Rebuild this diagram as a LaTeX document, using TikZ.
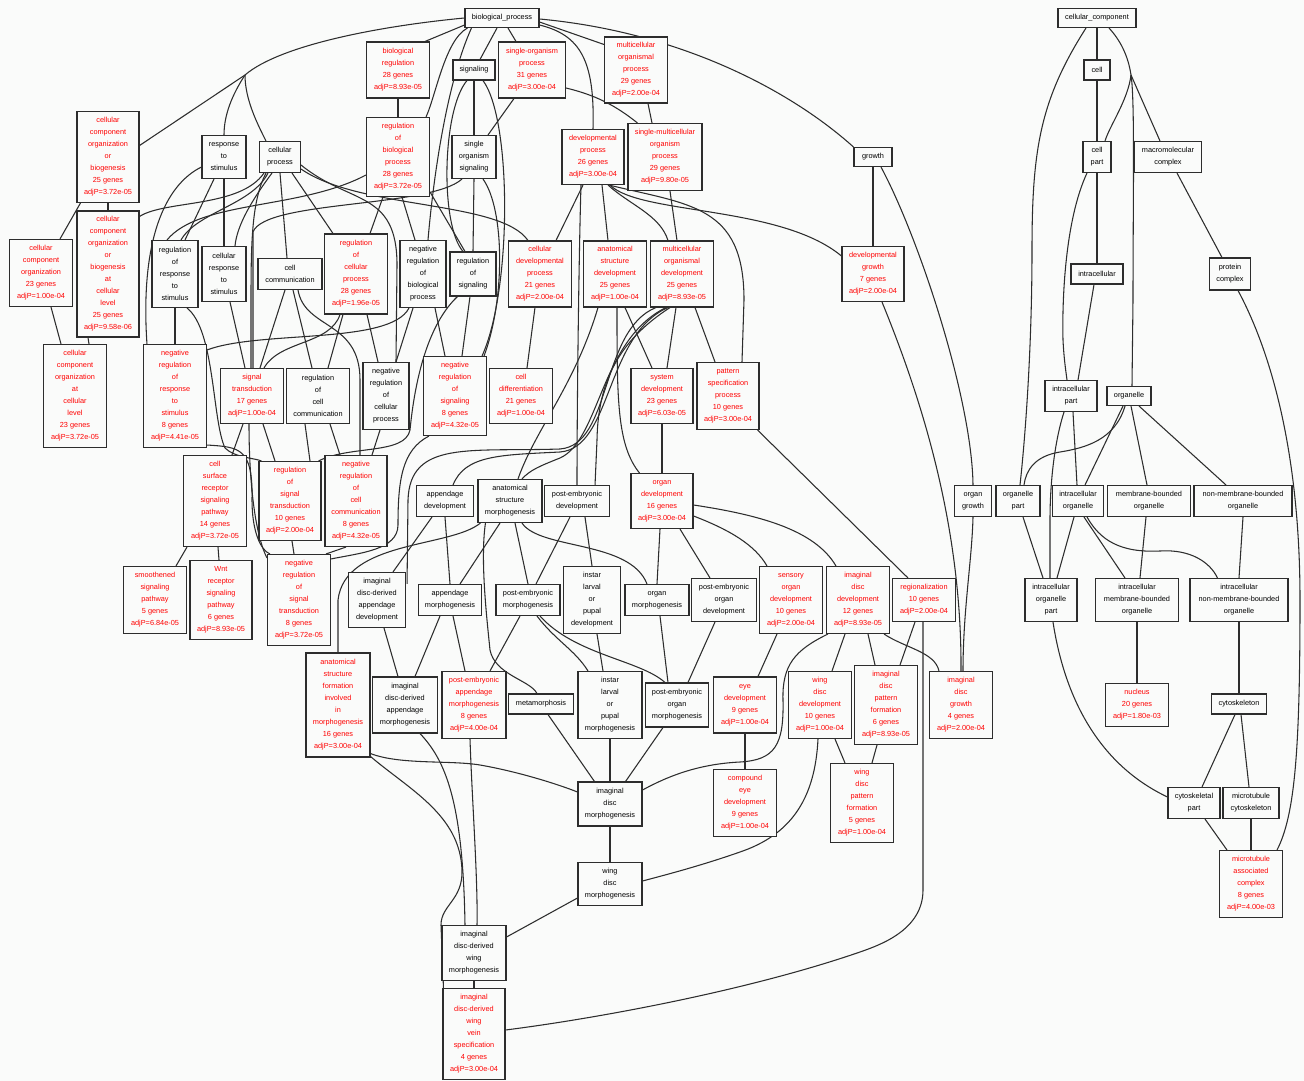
\documentclass[tikz,border=0pt]{standalone}
\usepackage{fontspec}
\setmainfont{Liberation Sans}
\usetikzlibrary{calc,backgrounds}

\definecolor{bgc}{RGB}{250,251,250}
\definecolor{gored}{RGB}{255,0,0}
\definecolor{edgec}{RGB}{45,45,45}
\newcommand{\gofont}{\fontsize{5.5}{9}\selectfont}

\begin{document}
\begin{tikzpicture}[
  x=0.75pt, y=-0.75pt,
  term/.style 2 args={draw=edgec, fill=bgc, line width=0.8pt, inner sep=0pt,
              align=center, font=\gofont,
              minimum width=#1*0.75pt, minimum height=#2*0.75pt},
  hit/.style 2 args={term={#1}{#2}, text=gored}
]
  \useasboundingbox (0,0) rectangle (1304,1081);

  \node[term={74}{19}]  (bp)     at (502,18)   {biological\_process};
  \node[term={78}{19}]  (ccroot) at (1097,18)  {cellular\_component};

  \node[hit={63}{56}]   (br)     at (398,70)   {biological\\regulation\\28 genes\\adjP=8.93e-05};
  \node[term={42}{20}]  (sig)    at (474,70)   {signaling};
  \node[hit={67}{56}]   (sop)    at (532,70)   {single-organism\\process\\31 genes\\adjP=3.00e-04};
  \node[hit={63}{66}]   (mop)    at (636,70)   {multicellular\\organismal\\process\\29 genes\\adjP=2.00e-04};
  \node[term={26}{20}]  (cell)   at (1097,70)  {cell};

  \node[hit={62}{91}]   (ccob)   at (108,157)  {cellular\\component\\organization\\or\\biogenesis\\25 genes\\adjP=3.72e-05};
  \node[term={44}{43}]  (rts)    at (224,157)  {response\\to\\stimulus};
  \node[term={41}{31}]  (cp)     at (280,157)  {cellular\\process};
  \node[hit={63}{79}]   (rbp)    at (398,157)  {regulation\\of\\biological\\process\\28 genes\\adjP=3.72e-05};
  \node[term={44}{43}]  (sos)    at (474,157)  {single\\organism\\signaling};
  \node[hit={62}{55}]   (dp)     at (593,157)  {developmental\\process\\26 genes\\adjP=3.00e-04};
  \node[hit={74}{67}]   (smop)   at (665,157)  {single-multicellular\\organism\\process\\29 genes\\adjP=9.80e-05};
  \node[term={38}{19}]  (growth) at (873,157)  {growth};
  \node[term={28}{31}]  (cellpart) at (1097,157) {cell\\part};
  \node[term={67}{31}]  (mc)     at (1168,157) {macromolecular\\complex};

  \node[hit={63}{67}]   (cco)    at (41,273)   {cellular\\component\\organization\\23 genes\\adjP=1.00e-04};
  \node[hit={62}{126}]  (ccoacl) at (108,274)  {cellular\\component\\organization\\or\\biogenesis\\at\\cellular\\level\\25 genes\\adjP=9.58e-06};
  \node[term={46}{67}]  (rrts)   at (175,274)  {regulation\\of\\response\\to\\stimulus};
  \node[term={44}{55}]  (crts)   at (224,274)  {cellular\\response\\to\\stimulus};
  \node[term={64}{31}]  (cc)     at (290,274)  {cell\\communication};
  \node[hit={63}{80}]   (rcp)    at (356,274)  {regulation\\of\\cellular\\process\\28 genes\\adjP=1.96e-05};
  \node[term={46}{67}]  (nrbp)   at (423,274)  {negative\\regulation\\of\\biological\\process};
  \node[term={46}{44}]  (ros)    at (473,274)  {regulation\\of\\signaling};
  \node[hit={63}{66}]   (cdp)    at (540,274)  {cellular\\developmental\\process\\21 genes\\adjP=2.00e-04};
  \node[hit={63}{66}]   (asd)    at (615,274)  {anatomical\\structure\\development\\25 genes\\adjP=1.00e-04};
  \node[hit={63}{66}]   (mod)    at (682,274)  {multicellular\\organismal\\development\\25 genes\\adjP=8.93e-05};
  \node[hit={62}{55}]   (dg)     at (873,274)  {developmental\\growth\\7 genes\\adjP=2.00e-04};
  \node[term={52}{20}]  (intra)  at (1097,274) {intracellular};
  \node[term={41}{32}]  (pc)     at (1230,274) {protein\\complex};

  \node[hit={63}{103}]  (ccoal)  at (75,396)   {cellular\\component\\organization\\at\\cellular\\level\\23 genes\\adjP=3.72e-05};
  \node[hit={63}{103}]  (nrrts)  at (175,396)  {negative\\regulation\\of\\response\\to\\stimulus\\8 genes\\adjP=4.41e-05};
  \node[hit={63}{55}]   (st)     at (252,396)  {signal\\transduction\\17 genes\\adjP=1.00e-04};
  \node[term={63}{55}]  (rcc)    at (318,396)  {regulation\\of\\cell\\communication};
  \node[term={46}{67}]  (nrcp)   at (386,396)  {negative\\regulation\\of\\cellular\\process};
  \node[hit={63}{79}]   (nros)   at (455,396)  {negative\\regulation\\of\\signaling\\8 genes\\adjP=4.32e-05};
  \node[hit={63}{55}]   (cdiff)  at (521,396)  {cell\\differentiation\\21 genes\\adjP=1.00e-04};
  \node[hit={62}{55}]   (sd)     at (662,396)  {system\\development\\23 genes\\adjP=6.03e-05};
  \node[hit={62}{67}]   (psp)    at (728,396)  {pattern\\specification\\process\\10 genes\\adjP=3.00e-04};
  \node[term={52}{31}]  (ip)     at (1071,396) {intracellular\\part};
  \node[term={44}{19}]  (org)    at (1129,396) {organelle};

  \node[hit={63}{91}]   (csrsp)  at (215,501)  {cell\\surface\\receptor\\signaling\\pathway\\14 genes\\adjP=3.72e-05};
  \node[hit={62}{79}]   (rst)    at (290,501)  {regulation\\of\\signal\\transduction\\10 genes\\adjP=2.00e-04};
  \node[hit={62}{91}]   (nrcc)   at (356,501)  {negative\\regulation\\of\\cell\\communication\\8 genes\\adjP=4.32e-05};
  \node[term={57}{31}]  (apd)    at (445,501)  {appendage\\development};
  \node[term={64}{43}]  (asm)    at (510,501)  {anatomical\\structure\\morphogenesis};
  \node[term={65}{31}]  (ped)    at (577,501)  {post-embryonic\\development};
  \node[hit={62}{55}]   (od)     at (662,501)  {organ\\development\\16 genes\\adjP=3.00e-04};
  \node[term={37}{31}]  (og)     at (973,501)  {organ\\growth};
  \node[term={44}{31}]  (op)     at (1018,501) {organelle\\part};
  \node[term={51}{31}]  (io)     at (1078,501) {intracellular\\organelle};
  \node[term={83}{31}]  (mbo)    at (1149,501) {membrane-bounded\\organelle};
  \node[term={98}{31}]  (nmbo)   at (1243,501) {non-membrane-bounded\\organelle};

  \node[hit={63}{67}]   (ssp)    at (155,600)  {smoothened\\signaling\\pathway\\5 genes\\adjP=6.84e-05};
  \node[hit={62}{79}]   (wnt)    at (221,600)  {Wnt\\receptor\\signaling\\pathway\\6 genes\\adjP=8.93e-05};
  \node[hit={63}{91}]   (nrst)   at (299,600)  {negative\\regulation\\of\\signal\\transduction\\8 genes\\adjP=3.72e-05};
  \node[term={57}{55}]  (idad)   at (377,600)  {imaginal\\disc-derived\\appendage\\development};
  \node[term={63}{31}]  (apm)    at (450,600)  {appendage\\morphogenesis};
  \node[term={64}{31}]  (pem)    at (528,600)  {post-embryonic\\morphogenesis};
  \node[term={57}{67}]  (ilpd)   at (592,600)  {instar\\larval\\or\\pupal\\development};
  \node[term={64}{31}]  (om)     at (657,600)  {organ\\morphogenesis};
  \node[term={65}{43}]  (peod)   at (724,600)  {post-embryonic\\organ\\development};
  \node[hit={63}{67}]   (sod)    at (791,600)  {sensory\\organ\\development\\10 genes\\adjP=2.00e-04};
  \node[hit={63}{67}]   (idd)    at (858,600)  {imaginal\\disc\\development\\12 genes\\adjP=8.93e-05};
  \node[hit={63}{43}]   (reg)    at (924,600)  {regionalization\\10 genes\\adjP=2.00e-04};
  \node[term={52}{43}]  (iop)    at (1051,600) {intracellular\\organelle\\part};
  \node[term={83}{43}]  (imbo)   at (1137,600) {intracellular\\membrane-bounded\\organelle};
  \node[term={98}{43}]  (inmbo)  at (1239,600) {intracellular\\non-membrane-bounded\\organelle};

  \node[hit={64}{104}]  (asfim)  at (338,705)  {anatomical\\structure\\formation\\involved\\in\\morphogenesis\\16 genes\\adjP=3.00e-04};
  \node[term={65}{56}]  (idadm)  at (405,705)  {imaginal\\disc-derived\\appendage\\morphogenesis};
  \node[hit={64}{67}]   (pam)    at (474,705)  {post-embryonic\\appendage\\morphogenesis\\8 genes\\adjP=4.00e-04};
  \node[term={65}{20}]  (meta)   at (541,704)  {metamorphosis};
  \node[term={64}{67}]  (ilpm)   at (610,705)  {instar\\larval\\or\\pupal\\morphogenesis};
  \node[term={63}{44}]  (pom)    at (677,705)  {post-embryonic\\organ\\morphogenesis};
  \node[hit={63}{56}]   (ed)     at (745,705)  {eye\\development\\9 genes\\adjP=1.00e-04};
  \node[hit={63}{67}]   (wdd)    at (820,705)  {wing\\disc\\development\\10 genes\\adjP=1.00e-04};
  \node[hit={63}{79}]   (idpf)   at (886,705)  {imaginal\\disc\\pattern\\formation\\6 genes\\adjP=8.93e-05};
  \node[hit={63}{67}]   (idg)    at (961,705)  {imaginal\\disc\\growth\\4 genes\\adjP=2.00e-04};
  \node[hit={63}{43}]   (nuc)    at (1137,705) {nucleus\\20 genes\\adjP=1.80e-03};
  \node[term={55}{20}]  (csk)    at (1239,704) {cytoskeleton};

  \node[term={64}{44}]  (idm)    at (610,804)  {imaginal\\disc\\morphogenesis};
  \node[hit={63}{67}]   (ced)    at (745,803)  {compound\\eye\\development\\9 genes\\adjP=1.00e-04};
  \node[hit={63}{79}]   (wdpf)   at (862,803)  {wing\\disc\\pattern\\formation\\5 genes\\adjP=1.00e-04};
  \node[term={52}{31}]  (cskp)   at (1194,803) {cytoskeletal\\part};
  \node[term={56}{31}]  (mtc)    at (1251,803) {microtubule\\cytoskeleton};

  \node[term={64}{43}]  (wdm)    at (610,884)  {wing\\disc\\morphogenesis};
  \node[hit={63}{67}]   (mac)    at (1251,884) {microtubule\\associated\\complex\\8 genes\\adjP=4.00e-03};
  \node[term={64}{55}]  (idwm)   at (474,953)  {imaginal\\disc-derived\\wing\\morphogenesis};
  \node[hit={62}{91}]   (idwvs)  at (474,1034) {imaginal\\disc-derived\\wing\\vein\\specification\\4 genes\\adjP=3.00e-04};

  \coordinate (hubL) at (245,75);
  \coordinate (ccHub) at (1131,75);

  \begin{scope}[on background layer]
  \fill[bgc] (0,0) rectangle (1304,1081);
  \begin{scope}[edgec, line width=0.8pt]
  \draw (bp.west) .. controls (380,26) and (280,45) .. (hubL);
  \draw (hubL) -- (ccob.20);
  \draw (hubL) .. controls (232,95) and (224,115) .. (rts.north);
  \draw (hubL) .. controls (245,100) and (258,125) .. ($(cp.north)+(-14,0)$);
  \draw ($(bp.south west)+(0,-3)$) -- ($(br.north)+(27,0)$);
  \draw ($(bp.south west)+(3,0)$) .. controls (445,40) and (436,95) .. ($(rbp.north east)+(-4,0)$);
  \draw ($(bp.south west)+(7,0)$) .. controls (448,80) and (434,170) .. ($(nrbp.north)+(5,0)$);
  \draw ($(bp.south)+(-5,0)$) -- ($(sig.north)+(6,0)$);
  \draw ($(bp.south)+(6,0)$) -- ($(sop.north)+(-16,0)$);
  \draw ($(bp.east)+(0,7)$) .. controls (580,35) and (595,60) .. (dp.north);
  \draw ($(bp.east)+(0,4)$) -- ($(mop.north west)+(0,8)$);
  \draw ($(bp.east)+(0,1)$) .. controls (680,32) and (790,90) .. (growth.north west);
  \draw (br.south) -- (rbp.north);
  \draw (sig.south) -- (sos.north);
  \draw ($(sig.south)+(-7,0)$) .. controls (442,110) and (440,225) .. ($(ros.north)+(-10,0)$);
  \draw ($(sig.south)+(9,0)$) .. controls (512,120) and (512,290) .. ($(nros.north east)+(-5,0)$);
  \draw ($(sop.south)+(-18,0)$) -- ($(sos.north)+(14,0)$);
  \draw ($(sop.east)+(0,18)$) .. controls (595,95) and (615,105) .. ($(smop.north west)+(10,0)$);
  \draw ($(mop.south)+(12,0)$) -- ($(smop.north)+(-13,0)$);
  \draw (ccob.south) -- (ccoacl.north);
  \draw ($(ccob.south west)+(4,0)$) -- ($(cco.north)+(19,0)$);
  \draw ($(ccoacl.south)+(-20,0)$) -- ($(ccoal.north)+(14,0)$);
  \draw ($(cco.south)+(10,0)$) -- ($(ccoal.north)+(-14,0)$);
  \draw (rts.south) -- (crts.north);
  \draw ($(rts.south)+(-10,0)$) -- ($(rrts.north)+(10,0)$);
  \draw ($(rts.west)+(0,10)$) .. controls (165,185) and (140,240) .. ($(nrrts.north west)+(4,0)$);
  \draw ($(cp.south)+(-8,0)$) .. controls (252,200) and (237,225) .. ($(crts.north)+(11,0)$);
  \draw (cp.south) -- ($(cc.north)+(-3,0)$);
  \draw ($(cp.south)+(12,0)$) -- ($(rcp.north)+(-23,0)$);
  \draw ($(cp.south)+(-12,0)$) .. controls (252,205) and (197,212) .. ($(rrts.north)+(6,0)$);
  \draw ($(cp.south)+(-14,0)$) .. controls (252,200) and (251,240) .. (251,300) -- ($(st.north)+(-1,0)$);
  \draw ($(cp.south)+(-16,0)$) .. controls (240,208) and (165,200) .. ($(ccoacl.north east)+(0,6)$);
  \draw ($(cp.east)+(0,8)$) .. controls (350,205) and (397,190) .. (397,265) -- ($(nrcp.north)+(10,0)$);
  \draw ($(cp.east)+(0,12)$) .. controls (360,210) and (500,200) .. ($(cdp.north)+(-12,0)$);
  \draw ($(rbp.south)+(-15,0)$) -- ($(rcp.north)+(14,0)$);
  \draw ($(rbp.south)+(4,0)$) -- ($(nrbp.north)+(-8,0)$);
  \draw ($(rbp.south east)+(0,-5)$) -- ($(ros.north)+(-8,0)$);
  \draw ($(rbp.west)+(0,18)$) .. controls (300,210) and (200,200) .. ($(rrts.north)+(-8,0)$);
  \draw (sos.south) -- (ros.north);
  \draw ($(sos.south)+(-12,0)$) .. controls (430,208) and (265,200) .. (253,232) -- ($(st.north)+(1,0)$);
  \draw ($(sos.south)+(9,0)$) .. controls (505,210) and (505,300) .. ($(nros.north east)+(-3,0)$);
  \draw ($(ros.south)+(-3,0)$) -- ($(nros.north)+(7,0)$);
  \draw ($(ros.south west)+(8,0)$) .. controls (422,330) and (413,400) .. (410,430) .. controls (405,455) and (350,445) .. ($(rst.north east)+(-3,0)$);
  \draw ($(nrbp.south)+(-10,0)$) -- ($(nrcp.north)+(10,0)$);
  \draw ($(nrbp.south)+(12,0)$) -- ($(nros.north)+(-10,0)$);
  \draw ($(nrbp.south)+(-14,0)$) .. controls (390,345) and (260,330) .. ($(nrrts.north east)+(0,6)$);
  \draw ($(rcp.south)+(-13,0)$) -- ($(rcc.north)+(10,0)$);
  \draw ($(rcp.south)+(11,0)$) -- ($(nrcp.north)+(-8,0)$);
  \draw ($(rcp.south)+(-16,0)$) .. controls (330,345) and (280,340) .. ($(st.north)+(12,0)$);
  \draw ($(cc.south)+(3,0)$) -- ($(rcc.north)+(-6,0)$);
  \draw ($(cc.south)+(-5,0)$) -- ($(st.north)+(8,0)$);
  \draw ($(cc.south)+(8,0)$) .. controls (305,330) and (360,320) .. (360,380) -- ($(nrcc.north)+(4,0)$);
  \draw (rrts.south) -- (nrrts.north);
  \draw ($(rrts.south)+(12,0)$) .. controls (215,330) and (212,420) .. (225,448) .. controls (235,458) and (255,458) .. ($(rst.north west)+(3,0)$);
  \draw ($(crts.south)+(6,0)$) -- ($(st.north)+(-7,0)$);
  \draw ($(nrrts.south east)+(0,-3)$) .. controls (240,447) and (253,448) .. (252,500) .. controls (252,530) and (260,550) .. ($(nrst.north west)+(3,0)$);
  \draw ($(st.south)+(-9,0)$) -- ($(csrsp.north)+(17,0)$);
  \draw ($(st.south)+(11,0)$) -- ($(rst.north)+(-15,0)$);
  \draw ($(st.south)+(-3,0)$) .. controls (249,470) and (253,530) .. ($(nrst.north west)+(0,4)$);
  \draw ($(rcc.south)+(-13,0)$) -- ($(rst.north)+(20,0)$);
  \draw ($(rcc.south)+(12,0)$) -- ($(nrcc.north)+(-16,0)$);
  \draw ($(nrcp.south)+(-6,0)$) -- ($(nrcc.north)+(16,0)$);
  \draw ($(nros.south west)+(6,0)$) .. controls (402,450) and (398,480) .. (398,525) .. controls (398,550) and (360,553) .. ($(nrst.north east)+(0,5)$);
  \draw ($(rst.south)+(2,0)$) -- ($(nrst.north)+(-5,0)$);
  \draw ($(nrcc.south)+(-10,0)$) -- ($(nrst.north east)+(-5,0)$);
  \draw ($(csrsp.south)+(-28,0)$) -- ($(ssp.north)+(21,0)$);
  \draw ($(csrsp.south)+(3,0)$) -- ($(wnt.north)+(-2,0)$);
  \draw ($(dp.south)+(-10,0)$) -- ($(cdp.north)+(16,0)$);
  \draw ($(dp.south)+(9,0)$) -- ($(asd.north)+(-7,0)$);
  \draw ($(dp.south)+(15,0)$) .. controls (630,205) and (660,215) .. ($(mod.north)+(-14,0)$);
  \draw ($(dp.south)+(17,0)$) .. controls (640,215) and (780,205) .. ($(dg.west)+(0,-18)$);
  \draw ($(dp.south)+(16,0)$) .. controls (690,205) and (744,205) .. (744,300) -- ($(psp.north)+(14,0)$);
  \draw ($(dp.south)+(-12,0)$) .. controls (579,250) and (577,400) .. (ped.north);
  \draw ($(smop.south)+(5,0)$) -- ($(mod.north)+(-5,0)$);
  \draw (growth.south) -- (dg.north);
  \draw ($(growth.south)+(8,0)$) .. controls (920,240) and (972,400) .. (og.north);
  \draw ($(dg.south)+(9,0)$) .. controls (918,390) and (962,520) .. (idg.north);
  \draw (og.south) .. controls (972,560) and (963,610) .. ($(idg.north)+(2,0)$);
  \draw ($(cdp.south)+(-5,0)$) -- ($(cdiff.north)+(6,0)$);
  \draw ($(asd.south)+(10,0)$) -- ($(sd.north)+(-10,0)$);
  \draw ($(asd.south)+(2,0)$) .. controls (617,400) and (617,445) .. ($(od.north west)+(9,0)$);
  \draw ($(asd.south)+(-17,0)$) .. controls (575,385) and (535,430) .. ($(asm.north)+(8,0)$);
  \draw ($(mod.south)+(-6,0)$) -- ($(sd.north)+(5,0)$);
  \draw ($(mod.south)+(13,0)$) -- ($(psp.north)+(-13,0)$);
  \draw ($(mod.south)+(-12,0)$) .. controls (620,340) and (598,380) .. (597,440) -- ($(ped.north east)+(-15,0)$);
  \draw ($(mod.south)+(-14,0)$) .. controls (605,335) and (612,448) .. (560,452) .. controls (500,455) and (465,455) .. ($(apd.north)+(8,0)$);
  \draw ($(mod.south)+(-16,0)$) .. controls (600,340) and (600,440) .. (560,458) .. controls (540,466) and (530,470) .. ($(asm.north)+(12,0)$);
  \draw ($(mod.south west)+(6,0)$) .. controls (600,330) and (612,445) .. (560,449) .. controls (470,452) and (410,440) .. (408,500) -- ($(idad.north east)+(1,12)$);
  \draw ($(psp.south east)+(-2,0)$) -- ($(reg.north)+(-16,0)$);
  \draw (sd.south) -- (od.north);
  \draw ($(od.south)+(-2,0)$) -- (om.north);
  \draw ($(od.south)+(18,0)$) -- ($(peod.north)+(-14,0)$);
  \draw ($(od.east)+(0,15)$) .. controls (730,530) and (755,545) .. ($(sod.north)+(-24,0)$);
  \draw ($(od.east)+(0,4)$) .. controls (760,515) and (815,530) .. ($(idd.north west)+(10,0)$);
  \draw ($(asm.south)+(-10,0)$) -- ($(apm.north)+(10,0)$);
  \draw ($(asm.south)+(5,0)$) -- (pem.north);
  \draw ($(asm.south)+(12,0)$) .. controls (540,550) and (630,540) .. ($(om.north)+(-10,0)$);
  \draw ($(asm.south west)+(8,0)$) .. controls (480,560) and (487,620) .. (490,650) .. controls (495,675) and (530,680) .. ($(meta.north)+(-4,0)$);
  \draw ($(asm.south west)+(3,0)$) .. controls (450,548) and (345,540) .. (338,600) -- (asfim.north);
  \draw ($(ped.south)+(-7,0)$) -- ($(pem.north)+(8,0)$);
  \draw ($(ped.south)+(8,0)$) -- (ilpd.north);
  \draw (apd.south) -- (apm.north);
  \draw ($(apd.south)+(-13,0)$) -- ($(idad.north)+(16,0)$);
  \draw ($(ilpd.south)+(5,0)$) -- ($(ilpm.north)+(-7,0)$);
  \draw ($(pem.south)+(-8,0)$) -- ($(pam.north)+(16,0)$);
  \draw ($(pem.south)+(9,0)$) .. controls (555,640) and (575,650) .. ($(ilpm.north)+(-22,0)$);
  \draw ($(pem.south)+(12,0)$) .. controls (575,655) and (640,660) .. ($(pom.north)+(-12,0)$);
  \draw ($(om.south)+(3,0)$) -- ($(pom.north)+(-9,0)$);
  \draw ($(peod.south)+(-9,0)$) -- ($(pom.north)+(11,0)$);
  \draw ($(apm.south)+(3,0)$) -- ($(pam.north)+(-9,0)$);
  \draw ($(apm.south)+(-10,0)$) -- ($(idadm.north)+(10,0)$);
  \draw ($(idad.south)+(7,0)$) -- ($(idadm.north)+(-7,0)$);
  \draw ($(sod.south)+(-14,0)$) -- ($(ed.north)+(13,0)$);
  \draw ($(idd.south)+(-13,0)$) -- ($(wdd.north)+(12,0)$);
  \draw ($(idd.south)+(10,0)$) -- ($(idpf.north)+(-11,0)$);
  \draw ($(idd.south east)+(-6,0)$) .. controls (905,648) and (935,652) .. ($(idg.north west)+(10,0)$);
  \draw ($(idd.south west)+(2,0)$) .. controls (795,650) and (782,665) .. (783,700) .. controls (784,745) and (775,760) .. (740,762) .. controls (700,764) and (670,775) .. ($(idm.east)+(0,-14)$);
  \draw ($(reg.south)+(-9,0)$) -- ($(idpf.north)+(14,0)$);
  \draw ($(reg.south)+(-1,0)$) -- (923,890) .. controls (923,930) and (880,945) .. (860,952) .. controls (750,990) and (600,1018) .. ($(idwvs.east)+(0,-4)$);
  \draw (ilpm.south) -- (idm.north);
  \draw ($(meta.south)+(7,0)$) -- ($(idm.north west)+(17,0)$);
  \draw ($(pom.south)+(-14,0)$) -- ($(idm.north east)+(-17,0)$);
  \draw (ed.south) -- (ced.north);
  \draw ($(wdd.south)+(-2,0)$) .. controls (815,800) and (790,835) .. (740,852) .. controls (700,866) and (665,875) .. ($(wdm.east)+(0,-3)$);
  \draw ($(wdd.south)+(15,0)$) -- ($(wdpf.north)+(-17,0)$);
  \draw ($(idpf.south)+(-9,0)$) -- ($(wdpf.north)+(10,0)$);
  \draw ($(asfim.south east)+(0,-4)$) .. controls (400,765) and (450,760) .. (480,765) .. controls (520,772) and (560,785) .. ($(idm.west)+(0,-12)$);
  \draw ($(asfim.south east)+(0,-1)$) .. controls (410,790) and (460,815) .. (462,870) .. controls (463,900) and (441,905) .. (441,925) -- ($(idwvs.north west)+(1,0)$);
  \draw ($(idadm.south)+(15,0)$) .. controls (445,760) and (463,800) .. ($(idwm.north)+(-9,0)$);
  \draw ($(pam.south)+(-4,0)$) .. controls (472,800) and (478,880) .. ($(idwm.north)+(3,0)$);
  \draw (idm.south) -- (wdm.north);
  \draw ($(wdm.west)+(0,14)$) -- ($(idwm.east)+(0,-16)$);
  \draw (idwm.south) -- (idwvs.north);
  \draw (ccroot.south) -- (cell.north);
  \draw ($(ccroot.south)+(12,0)$) .. controls (1120,40) and (1128,55) .. (ccHub);
  \draw (ccHub) .. controls (1128,100) and (1110,125) .. ($(cellpart.north)+(8,0)$);
  \draw (ccHub) -- ($(mc.north)+(-8,0)$);
  \draw (ccHub) .. controls (1135,100) and (1133,200) .. (1133,300) -- ($(org.north)+(3,0)$);
  \draw ($(ccroot.south)+(-11,0)$) .. controls (1040,100) and (1032,150) .. (1032,250) .. controls (1032,350) and (1025,440) .. ($(op.north)+(2,0)$);
  \draw (cell.south) -- (cellpart.north);
  \draw (cellpart.south) -- (intra.north);
  \draw ($(cellpart.south)+(-10,0)$) .. controls (1065,220) and (1062,300) .. (1063,340) .. controls (1064,360) and (1066,372) .. ($(ip.north)+(-4,0)$);
  \draw ($(intra.south)+(-3,0)$) -- ($(ip.north)+(7,0)$);
  \draw ($(mc.south)+(9,0)$) -- ($(pc.north)+(-8,0)$);
  \draw ($(pc.south)+(8,0)$) .. controls (1270,350) and (1300,450) .. (1300,600) .. controls (1300,750) and (1295,815) .. ($(mac.north east)+(-6,0)$);
  \draw ($(ip.south)+(2,0)$) -- ($(io.north)+(-1,0)$);
  \draw ($(ip.south)+(-7,0)$) .. controls (1055,440) and (1050,480) .. (1050,520) -- ($(iop.north)+(-1,0)$);
  \draw ($(org.south)+(-4,0)$) .. controls (1115,440) and (1085,448) .. (1060,452) .. controls (1035,456) and (1026,470) .. ($(op.north)+(6,0)$);
  \draw ($(org.south)+(-6,0)$) -- ($(io.north)+(7,0)$);
  \draw ($(org.south)+(2,0)$) -- ($(mbo.north)+(-2,0)$);
  \draw ($(org.south)+(10,0)$) -- ($(nmbo.north)+(-17,0)$);
  \draw ($(op.south)+(5,0)$) -- ($(iop.north)+(-8,0)$);
  \draw ($(io.south)+(-4,0)$) -- ($(iop.north)+(6,0)$);
  \draw ($(io.south)+(6,0)$) -- ($(imbo.north)+(-12,0)$);
  \draw ($(io.south)+(9,0)$) .. controls (1100,540) and (1120,553) .. (1160,551) .. controls (1190,549) and (1210,562) .. ($(inmbo.north west)+(28,0)$);
  \draw ($(mbo.south)+(-3,0)$) -- ($(imbo.north)+(3,0)$);
  \draw (nmbo.south) -- (inmbo.north);
  \draw (imbo.south) -- (nuc.north);
  \draw (inmbo.south) -- (csk.north);
  \draw ($(iop.south)+(2,0)$) .. controls (1065,700) and (1100,765) .. ($(cskp.west)+(0,-6)$);
  \draw ($(csk.south)+(-4,0)$) -- ($(cskp.north)+(8,0)$);
  \draw ($(csk.south)+(2,0)$) -- ($(mtc.north)+(-2,0)$);
  \draw ($(cskp.south)+(11,0)$) -- ($(mac.north west)+(8,0)$);
  \draw (mtc.south) -- (mac.north);
  \end{scope}
  \end{scope}
\end{tikzpicture}
\end{document}
